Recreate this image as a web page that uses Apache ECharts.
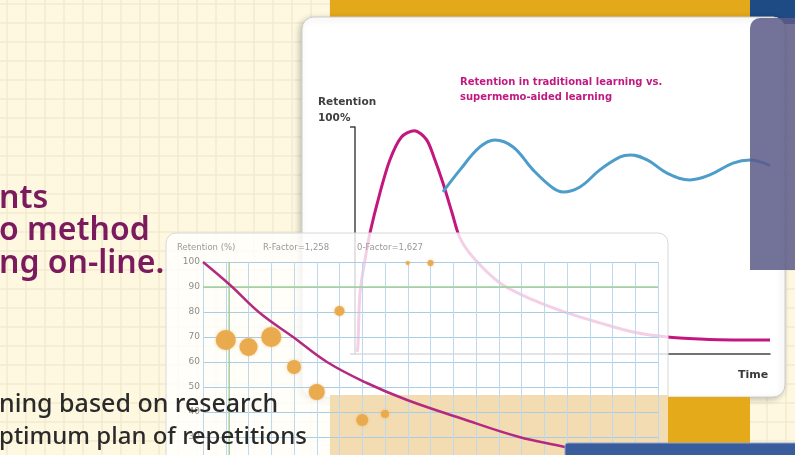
<!DOCTYPE html>
<html><head><meta charset="utf-8">
<script src="https://cdn.jsdelivr.net/npm/echarts@6/dist/echarts.min.js"></script>
<style>html,body{margin:0;padding:0;background:#fdf8df}#c{width:795px;height:455px}</style>
</head><body><div id="c"></div>
<script>
// Panel 1: retention (%) over time (0-100)
const traditionalCurve = [[0.5,0.9],[0.7,3],[1.2,26.9],[2.4,41.4],[3.6,53.3],[6.0,70.9],[8.4,85.5],[11.2,95.6],[14.3,98.4],[17.2,94.5],[19.0,86.8],[21.2,75.3],[23.4,62.1],[25.2,51.5],[28.4,42.7],[34.9,31.3],[42.9,23.8],[51.1,18.1],[59.0,13.7],[67.0,9.7],[75.2,7.5],[83.1,6.6],[91.1,6.2],[100,6.2]];
const supermemoCurve = [[21.2,71.4],[25.3,81.1],[30.1,91.2],[33.7,94.3],[38.1,91.2],[42.9,81.1],[47.7,73.1],[50.1,71.4],[54.2,73.6],[59.0,81.1],[63.9,86.8],[66.3,87.7],[70.4,85.5],[75.2,79.7],[80.7,76.7],[85.5,78.9],[91.1,84.1],[95.2,85.5],[100,83]];
// Panel 2: forgetting curve and repetition results
const forgettingCurve = [[0,100],[1.19,90.8],[2.5,79.6],[3.96,70],[5.45,60],[7.2,51.6],[8.97,44.8],[11.3,37.6],[13.9,30],[15.9,26],[18,21]];
const repetitionPoints = [[1,68.8,20],[2,66,18],[3,70,20],[4,58,14],[5,48,16],[6,80.4,10],[7,36.8,12],[8,39.2,8],[9,99.6,4],[10,99.6,6]];
const markerX = 1.15;
const markerY = 90;
const panelTwoHeader = ['Retention (%)','R-Factor=1,258','0-Factor=1,627'];
const panelOneTitle = ['Retention in traditional learning vs.','supermemo-aided learning'];
const panelOneAxis = ['Retention','100%','Time'];
const leftHeadline = ['nts','o method','ng on-line.'];
const leftBody = ['ning based on research','ptimum plan of repetitions'];

const chart = echarts.init(document.getElementById('c'));
const hidden = {axisLine:{show:false},axisTick:{show:false},axisLabel:{show:false}};
const txt = (t,x,y,font,fill,z) => ({type:'text',x:x,y:y,z:z,silent:true,style:{text:t,font:font,fill:fill,verticalAlign:'middle'}});

const graphic = [
  {type:'rect',z:2,shape:{x:330,y:-2,width:420,height:19},style:{fill:'#e3a91b'}},
  {type:'rect',z:2,shape:{x:750,y:-2,width:50,height:26},style:{fill:'#1e4b84'}},
  {type:'rect',z:2,shape:{x:302,y:17,width:483,height:380,r:12},style:{fill:'#ffffff',stroke:'#cdcdcd',lineWidth:1,shadowBlur:6,shadowColor:'rgba(0,0,0,0.22)',shadowOffsetX:-2,shadowOffsetY:2}},
  {type:'rect',z:5,shape:{x:750,y:18,width:50,height:252,r:[10,0,0,0]},style:{fill:'rgba(92,91,136,0.86)'}},
  txt(panelOneAxis[0],318,102,'bold 10.5px "DejaVu Sans"','#3f3f3f',3),
  txt(panelOneAxis[1],318,118,'bold 10.5px "DejaVu Sans"','#3f3f3f',3),
  txt(panelOneAxis[2],738,375,'bold 11px "DejaVu Sans"','#3a3a3a',3),
  txt(panelOneTitle[0],460,82,'bold 10px "DejaVu Sans"','#c01a82',3),
  txt(panelOneTitle[1],460,97,'bold 10px "DejaVu Sans"','#c01a82',3),
  {type:'rect',z:6,shape:{x:166,y:233,width:502,height:240,r:10},style:{fill:'rgba(255,255,255,0.8)',stroke:'#d8d8d8',lineWidth:1}},
  {type:'rect',z:7,shape:{x:330,y:395,width:338,height:62},style:{fill:'#f3dcb2'}},
  txt(panelTwoHeader[0],177,248,'8.5px "DejaVu Sans"','#999999',8),
  txt(panelTwoHeader[1],263,248,'8.5px "DejaVu Sans"','#999999',8),
  txt(panelTwoHeader[2],357,248,'8.5px "DejaVu Sans"','#999999',8),
  {type:'rect',z:10,shape:{x:668,y:397,width:82,height:60},style:{fill:'#e4aa19'}},
  {type:'rect',z:10,shape:{x:565,y:443,width:240,height:16,r:[3,0,0,0]},style:{fill:'#3a5b9c',stroke:'#8fa6cf',lineWidth:1}},
  txt(leftHeadline[0],-1,199,'600 32px "Noto Sans"','#7c1a5e',11),
  txt(leftHeadline[1],-1,231,'600 32px "Noto Sans"','#7c1a5e',11),
  txt(leftHeadline[2],-1,264,'600 32px "Noto Sans"','#7c1a5e',11),
  txt(leftBody[0],-1,405,'500 25px "Noto Sans"','#2a2a2a',11),
  txt(leftBody[1],-1,437,'500 24px "Noto Sans"','#2a2a2a',11)
];

chart.setOption({
  animation:false,
  backgroundColor:'#fdf8df',
  graphic: graphic,
  grid:[
    {left:-12,top:-15,width:836,height:475,outerBoundsMode:'none'},
    {left:355,top:127,width:415,height:227,outerBoundsMode:'none'},
    {left:203,top:262,width:455,height:250,outerBoundsMode:'none'}
  ],
  xAxis:[
    Object.assign({gridIndex:0,type:'value',min:0,max:44,interval:1,z:0,splitLine:{lineStyle:{color:'#f2ead0',width:1.5}}},hidden),
    {gridIndex:1,type:'value',min:0,max:100,z:3,axisLine:{show:true,onZero:false,lineStyle:{color:'#444',width:1.5}},axisTick:{show:false},axisLabel:{show:false},splitLine:{show:false}},
    Object.assign({gridIndex:2,type:'value',min:0,max:20,interval:1,z:8,splitLine:{lineStyle:{color:'#bcd9ee',width:1}}},hidden)
  ],
  yAxis:[
    Object.assign({gridIndex:0,type:'value',min:0,max:25,interval:1,z:0,splitLine:{lineStyle:{color:'#f2ead0',width:1.5}}},hidden),
    {gridIndex:1,type:'value',min:0,max:100,interval:100,z:3,axisLine:{show:true,onZero:false,lineStyle:{color:'#444',width:1.5}},axisTick:{show:true,length:5,lineStyle:{color:'#444',width:1.5}},axisLabel:{show:false},splitLine:{show:false}},
    {gridIndex:2,type:'value',min:0,max:100,interval:10,z:8,axisLine:{show:false},axisTick:{show:false},axisLabel:{show:true,fontSize:9,color:'#8c8c8c',margin:3,fontFamily:'DejaVu Sans'},splitLine:{lineStyle:{color:'#a9cde4',width:1}}}
  ],
  series:[
    {type:'line',xAxisIndex:1,yAxisIndex:1,data:traditionalCurve,smooth:0.3,symbol:'none',z:4,lineStyle:{color:'#c3177e',width:3}},
    {type:'line',xAxisIndex:1,yAxisIndex:1,data:supermemoCurve,smooth:0.4,symbol:'none',z:4,lineStyle:{color:'#4d9dcb',width:3}},
    {type:'line',xAxisIndex:2,yAxisIndex:2,data:[[markerX,0],[markerX,100]],symbol:'none',z:9,silent:true,lineStyle:{color:'#a3cf98',width:1.5}},
    {type:'line',xAxisIndex:2,yAxisIndex:2,data:[[0,markerY],[20,markerY]],symbol:'none',z:9,silent:true,lineStyle:{color:'#a3cf98',width:1.5}},
    {type:'line',xAxisIndex:2,yAxisIndex:2,data:forgettingCurve,smooth:0.4,symbol:'none',z:9,lineStyle:{color:'#b42a80',width:2.5}},
    {type:'scatter',xAxisIndex:2,yAxisIndex:2,data:repetitionPoints,clip:false,z:10,symbolSize:d=>d[2],
      itemStyle:{color:'#e9a94a',opacity:0.95,shadowBlur:3,shadowColor:'rgba(233,169,74,0.6)'}}
  ]
});
</script></body></html>
